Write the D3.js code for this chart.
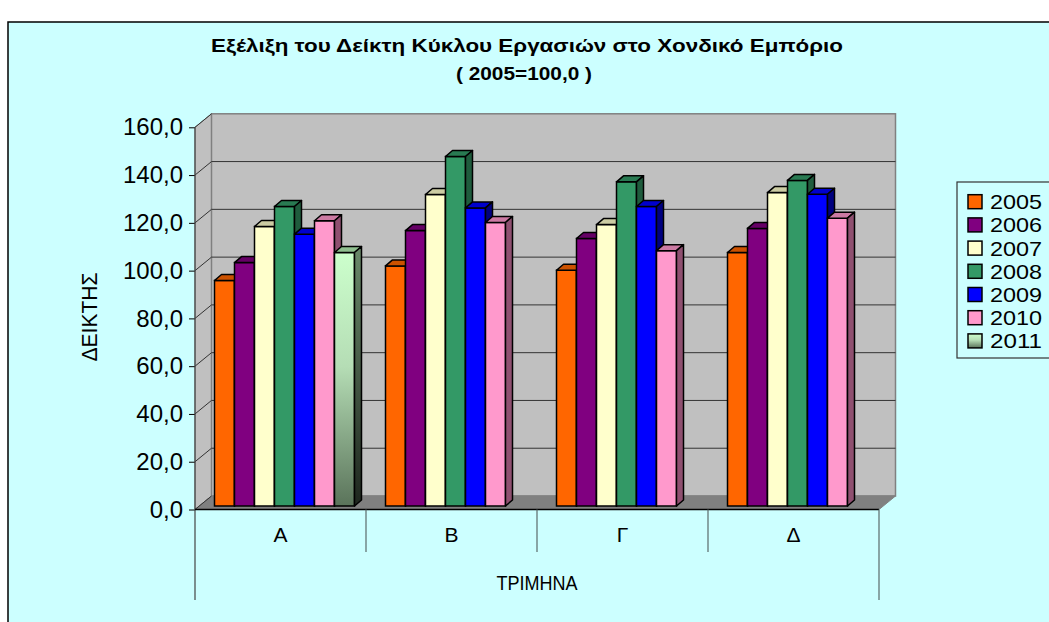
<!DOCTYPE html>
<html>
<head>
<meta charset="utf-8">
<script src="https://cdn.jsdelivr.net/npm/d3@7"></script>
<style>
  body { margin: 0; background: #fff; }
  svg { display: block; font-family: "Liberation Sans", Arial, sans-serif; }
</style>
</head>
<body>
<script>
// chart data
const categories = ['Α', 'Β', 'Γ', 'Δ']
const years = ['2005', '2006', '2007', '2008', '2009', '2010', '2011']
const v2005 = [94.4, 100.5, 98.7, 106.1]
const v2006 = [101.9, 115.3, 112.0, 116.2]
const v2007 = [117.0, 130.4, 117.8, 131.2]
const v2008 = [125.4, 146.3, 135.7, 136.3]
const v2009 = [113.8, 124.8, 125.4, 130.5]
const v2010 = [119.4, 118.7, 106.9, 120.5]
const v2011 = [106.1, null, null, null]
const yTicks = [0, 20, 40, 60, 80, 100, 120, 140, 160]

const series = [v2005, v2006, v2007, v2008, v2009, v2010, v2011]
const fronts = ['#FF6600', '#800080', '#FFFFCC', '#339966', '#0000FF', '#FF99CC', 'url(#g11)']
const tops = ['#CC5200', '#660066', '#CCCCA3', '#297A52', '#0000CC', '#CC7AA3', '#8FBF8F']
const sides = ['#993D00', '#4D004D', '#99997A', '#1F5C3D', '#000080', '#8F5070', 'url(#g11s)']

const w = 1049
const h = 622
const svg = d3.select('body').append('svg').attr('width', w).attr('height', h)

const defs = svg.append('defs')
const g1 = defs.append('linearGradient').attr('id', 'g11').attr('x1', 0).attr('y1', 0).attr('x2', 0).attr('y2', 1)
g1.append('stop').attr('offset', 0).attr('stop-color', '#CCFFCC')
g1.append('stop').attr('offset', 0.45).attr('stop-color', '#B5DDB5')
g1.append('stop').attr('offset', 1).attr('stop-color', '#5A735A')
const g2 = defs.append('linearGradient').attr('id', 'g11s').attr('x1', 0).attr('y1', 0).attr('x2', 0).attr('y2', 1)
g2.append('stop').attr('offset', 0).attr('stop-color', '#6A8A6A')
g2.append('stop').attr('offset', 1).attr('stop-color', '#1E261E')

// outer frame
svg.append('rect').attr('x', 8).attr('y', 22).attr('width', w).attr('height', h)
  .attr('fill', '#CCFFFF').attr('stroke', '#000').attr('stroke-width', 1.5)

// title
svg.append('text').attr('x', 527).attr('y', 52).attr('text-anchor', 'middle')
  .attr('font-size', 19).attr('font-weight', 'bold')
  .attr('textLength', 632).attr('lengthAdjust', 'spacingAndGlyphs')
  .text('Εξέλιξη του Δείκτη Κύκλου Εργασιών στο Χονδικό Εμπόριο')
svg.append('text').attr('x', 524).attr('y', 80).attr('text-anchor', 'middle')
  .attr('font-size', 19).attr('font-weight', 'bold')
  .attr('textLength', 136).attr('lengthAdjust', 'spacingAndGlyphs')
  .text('( 2005=100,0 )')

// 3d plot geometry
const left = 195, right = 879, y0 = 509.5
const dx = 16.5, dy = 13.5      // wall depth
const bx = 4, by = 3.5          // bars set back from front
const bdx = 7, bdy = 6          // bar depth

const yScale = d3.scaleLinear().domain([0, 160]).range([y0, 127.3])
const x0 = d3.scaleBand().domain(categories).range([left, right])
const x1 = d3.scaleBand().domain(years).range([0, x0.bandwidth()]).paddingOuter(0.775)

// walls
svg.append('polygon')
  .attr('points', [[left, yScale(160)], [left + dx, yScale(160) - dy], [left + dx, y0 - dy], [left, y0]].join(' '))
  .attr('fill', '#C0C0C0').attr('stroke', '#808080')
svg.append('rect').attr('x', left + dx).attr('y', yScale(160) - dy)
  .attr('width', right - left).attr('height', y0 - yScale(160))
  .attr('fill', '#C0C0C0').attr('stroke', '#808080').attr('stroke-width', 1.5)
svg.append('polygon')
  .attr('points', [[left, y0], [left + dx, y0 - dy], [right + dx, y0 - dy], [right, y0]].join(' '))
  .attr('fill', '#808080').attr('stroke', '#808080')

// gridlines
const grid = svg.append('g').attr('stroke', '#333').attr('stroke-width', 1)
grid.selectAll('.hg').data(yTicks.filter(d => d > 0 && d < 160)).enter().append('line')
  .attr('x1', left + dx).attr('x2', right + dx)
  .attr('y1', d => yScale(d) - dy).attr('y2', d => yScale(d) - dy)
grid.selectAll('.dg').data(yTicks).enter().append('line')
  .attr('x1', left).attr('x2', left + dx)
  .attr('y1', d => yScale(d)).attr('y2', d => yScale(d) - dy)

// bars
const groups = svg.selectAll('.cat').data(categories).enter().append('g')
  .attr('transform', d => `translate(${x0(d) + bx},${-by})`)
groups.each(function (cat, ci) {
  const g = d3.select(this)
  years.forEach((yr, si) => {
    const v = series[si][ci]
    if (v == null) return
    const xa = x1(yr), xb = xa + x1.bandwidth()
    const yt = yScale(v)
    g.append('rect').attr('x', xa).attr('y', yt).attr('width', x1.bandwidth()).attr('height', y0 - yt)
      .attr('fill', fronts[si]).attr('stroke', '#000').attr('stroke-width', 1.5)
    g.append('polygon')
      .attr('points', [[xa, yt], [xa + bdx, yt - bdy], [xb + bdx, yt - bdy], [xb, yt]].join(' '))
      .attr('fill', tops[si]).attr('stroke', '#000').attr('stroke-width', 1.5).attr('stroke-linejoin', 'round')
    g.append('polygon')
      .attr('points', [[xb, yt], [xb + bdx, yt - bdy], [xb + bdx, y0 - bdy], [xb, y0]].join(' '))
      .attr('fill', sides[si]).attr('stroke', '#000').attr('stroke-width', 1.5).attr('stroke-linejoin', 'round')
  })
})

// y axis
const yAxis = svg.append('g').attr('transform', `translate(${left},0)`)
  .call(d3.axisLeft(yScale).tickValues(yTicks).tickSize(6).tickPadding(6)
    .tickFormat(d => d3.format('.1f')(d).replace('.', ',')))
yAxis.select('.domain').remove()
yAxis.selectAll('text').attr('font-size', 24).attr('font-family', '"Liberation Sans", Arial, sans-serif').attr('fill', '#000')
yAxis.selectAll('line').attr('stroke', '#000')
svg.append('line').attr('x1', left).attr('x2', left).attr('y1', yScale(160)).attr('y2', 600)
  .attr('stroke', '#444').attr('stroke-width', 1.2)

svg.append('text').attr('transform', 'translate(97,317) rotate(-90)').attr('text-anchor', 'middle')
  .attr('font-size', 22).attr('textLength', 89).attr('lengthAdjust', 'spacingAndGlyphs')
  .text('ΔΕΙΚΤΗΣ')

// category axis
svg.append('line').attr('x1', left).attr('x2', right).attr('y1', y0).attr('y2', y0)
  .attr('stroke', '#000').attr('stroke-width', 1.5)
svg.selectAll('.div').data(categories.slice(1)).enter().append('line')
  .attr('x1', d => x0(d)).attr('x2', d => x0(d)).attr('y1', y0).attr('y2', 552)
  .attr('stroke', '#5A6A6A').attr('stroke-width', 1.2)
svg.append('line').attr('x1', right).attr('x2', right).attr('y1', y0).attr('y2', 600)
  .attr('stroke', '#5A6A6A').attr('stroke-width', 1.2)
svg.selectAll('.cl').data(categories).enter().append('text')
  .attr('x', d => x0(d) + x0.bandwidth() / 2).attr('y', 542).attr('text-anchor', 'middle')
  .attr('font-size', 21).text(d => d)
svg.append('text').attr('x', (left + right) / 2).attr('y', 590).attr('text-anchor', 'middle')
  .attr('font-size', 21).attr('textLength', 81).attr('lengthAdjust', 'spacingAndGlyphs')
  .text('ΤΡΙΜΗΝΑ')

// legend
svg.append('rect').attr('x', 957).attr('y', 182).attr('width', 120).attr('height', 176)
  .attr('fill', '#CCFFFF').attr('stroke', '#333').attr('stroke-width', 1.2)
const leg = svg.selectAll('.leg').data(years).enter().append('g')
  .attr('transform', (d, i) => `translate(968,${201.7 + i * 23.2})`)
leg.append('rect').attr('x', 0).attr('y', -7).attr('width', 14).attr('height', 14)
  .attr('fill', (d, i) => fronts[i]).attr('stroke', '#000').attr('stroke-width', 1.5)
leg.append('text').attr('x', 22).attr('dy', '0.36em').attr('font-size', 21)
  .attr('textLength', 52).attr('lengthAdjust', 'spacingAndGlyphs').text(d => d)
</script>
</body>
</html>
